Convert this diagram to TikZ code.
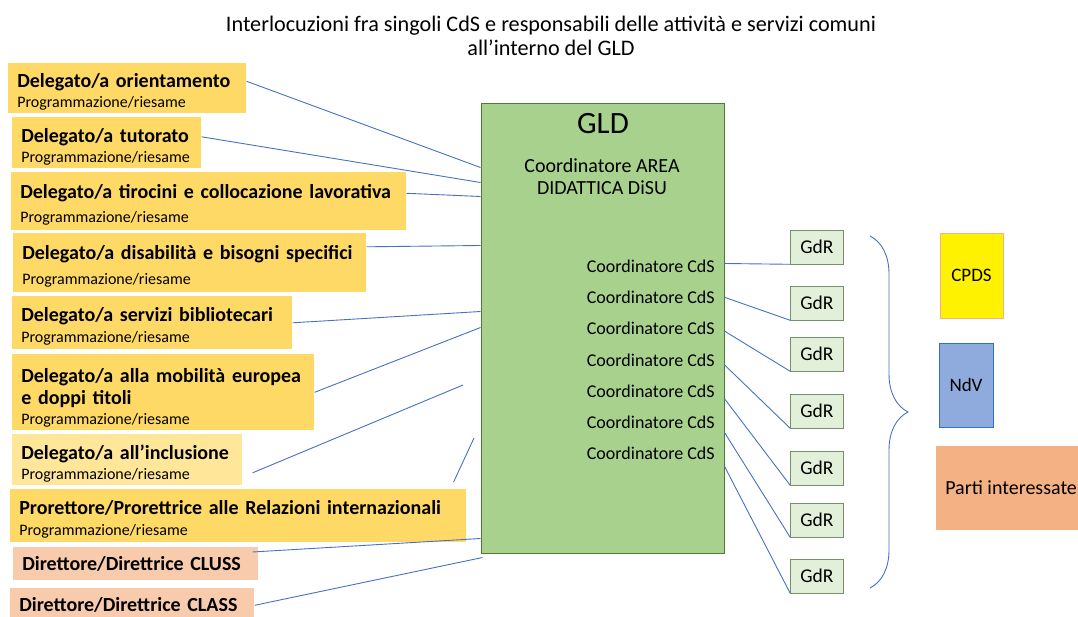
\documentclass[tikz,border=0pt]{standalone}
\usepackage{fontspec}
\setmainfont{Carlito}
\usetikzlibrary{positioning,calc,decorations.pathreplacing}

\definecolor{delegyellow}{HTML}{FFD966}
\definecolor{inclyellow}{HTML}{FFE699}
\definecolor{dirsalmon}{HTML}{F8CBAD}
\definecolor{partisalmon}{HTML}{F4B183}
\definecolor{gldgreen}{HTML}{A9D18E}
\definecolor{gldborder}{HTML}{4E7A33}
\definecolor{gdrgreen}{HTML}{E2F0D9}
\definecolor{gdrborder}{HTML}{75906A}
\definecolor{linkblue}{HTML}{4472C4}
\definecolor{ndvblue}{HTML}{8FAADC}
\definecolor{ndvborder}{HTML}{2E75B6}

\newcommand{\fsz}[1]{\fontsize{#1}{#1}\selectfont}
\newcommand{\lead}{\rule{0pt}{22pt}}
\newcommand{\subline}{\normalfont\fontsize{16}{18}\selectfont Programmazione/riesame}

\begin{document}
\begin{tikzpicture}[x=1pt,y=-1pt,semithick]
  \tikzset{
    deleg/.style={fill=delegyellow,anchor=north west,align=left,inner xsep=9pt,
      inner ysep=0pt,text width=#1,font=\bfseries\fontsize{20}{23}\selectfont},
    dir/.style={deleg=#1,fill=dirsalmon},
    cds/.style={anchor=east,font=\fontsize{18}{20}\selectfont,inner sep=0pt},
    gdr/.style={draw=gdrborder,fill=gdrgreen,minimum width=53pt,minimum height=34pt,
      inner sep=0pt,font=\fontsize{19.5}{21}\selectfont},
    link/.style={draw=linkblue,line width=0.9pt}
  }
  \useasboundingbox (0,0) rectangle (1078,617);

  % title
  \node[align=center,font=\fontsize{22.2}{24}\selectfont] (title) at (551,36)
    {Interlocuzioni fra singoli CdS e responsabili delle attività e servizi comuni\\all’interno del GLD};

  % delegati
  \node[deleg=220pt,minimum height=50pt] (orient) at (8,63)
    {\lead Delegato/a orientamento\\[-3pt]\subline};
  \node[deleg=171pt,minimum height=51pt] (tutor) at (12,117)
    {\lead Delegato/a tutorato\\[-3pt]\subline};
  \node[deleg=377pt,minimum height=58pt] (tiroc) at (11,172)
    {\lead Delegato/a tirocini e collocazione lavorativa\\[1pt]\subline};
  \node[deleg=335pt,minimum height=59pt] (disab) at (13,233)
    {\lead Delegato/a disabilità e bisogni specifici\\[2pt]\subline};
  \node[deleg=262pt,minimum height=53pt] (biblio) at (12,296)
    {\lead Delegato/a servizi bibliotecari\\[-2pt]\subline};
  \node[deleg=284pt,minimum height=76pt] (mobil) at (12,354)
    {\rule{0pt}{25pt}Delegato/a alla mobilità europea\\[-1pt]e doppi titoli\\[-3pt]\subline};
  \node[deleg=212pt,minimum height=51pt,fill=inclyellow] (inclus) at (12,434)
    {\lead Delegato/a all’inclusione\\[-3pt]\subline};
  \node[deleg=438pt,minimum height=53pt] (prorett) at (10,489)
    {\lead Prorettore/Prorettrice alle Relazioni internazionali\\[-2pt]\subline};
  \node[dir=227pt,minimum height=33pt] (cluss) at (13,547) {Direttore/Direttrice CLUSS};
  \node[dir=226pt,minimum height=34pt] (class) at (10,588) {Direttore/Direttrice CLASS};

  % GLD
  \node[draw=gldborder,fill=gldgreen,line width=1pt,minimum width=243pt,
    minimum height=449pt] (GLD) at (602.5,328.5) {};
  \node[font=\fsz{31}] (gldname) at (603,124) {GLD};
  \node[align=center,font=\fontsize{20}{22}\selectfont] (area) at (602,177)
    {Coordinatore AREA\\DIDATTICA DiSU};
  \foreach \i in {1,...,7}
    \node[cds] (cds\i) at (715,{266+31.3*(\i-1)}) {Coordinatore CdS};

  % GdR
  \foreach \i/\y in {1/247,2/303,3/354,4/411,5/468,6/520,7/576}
    \node[gdr] (gdr\i) at (817,\y) {GdR};

  % right column
  \node[draw=partisalmon,fill=yellow,minimum width=63pt,minimum height=85pt,
    font=\fsz{19}] (cpds) at (971.5,275.5) {CPDS};
  \node[draw=ndvborder,fill=ndvblue,minimum width=54pt,minimum height=84pt,
    font=\fsz{19}] (ndv) at (966,385) {NdV};
  \node[fill=partisalmon,anchor=west,minimum height=84pt,inner xsep=9pt,
    font=\fsz{20}] (parti) at (936,488) {Parti interessate};

  % connectors
  \foreach \b/\dy/\e in {orient/7/64,tutor/6/79,tiroc/8/93,disab/16/142,biblio/0/208,mobil/0/224}
    \draw[link] ([yshift=\dy]\b.east) -- ([yshift=-\e]GLD.north west);
  \coordinate (inclEnd) at (463,385);
  \coordinate (proEnd) at (474,438);
  \draw[link] ([shift={(10,13)}]inclus.east) -- (inclEnd);
  \draw[link] ([shift={(-13,-7)}]prorett.north east) -- (proEnd);
  \draw[link] ([shift={(-6,5)}]cluss.north east) -- ([yshift=15]GLD.south west);
  \draw[link] (class.east) -- ([shift={(2,4)}]GLD.south west);
  \foreach \i [evaluate=\i as \dy using 160+33.8*(\i-1)] in {1,...,7}
    \draw[link] ([yshift=-\dy]GLD.north east) -- (gdr\i.south west);
  \draw[link,decorate,decoration={brace,amplitude=38pt}] (870,236) -- (870,588);
\end{tikzpicture}
\end{document}
